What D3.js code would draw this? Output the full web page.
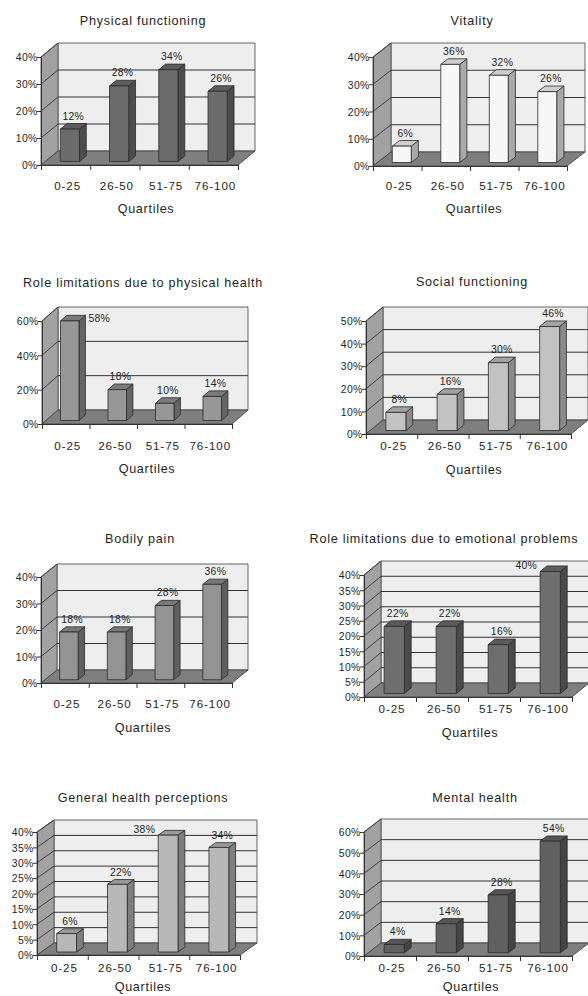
<!DOCTYPE html>
<html><head><meta charset="utf-8">
<script src="https://cdn.jsdelivr.net/npm/d3@7/dist/d3.min.js"></script>
<style>
html,body{margin:0;padding:0;background:#fff;}
svg{display:block;font-family:"Liberation Sans",Arial,sans-serif;}
</style></head>
<body><svg id="c" width="588" height="996"></svg>
<script>
// ---- data ----
const categories = ["0-25", "26-50", "51-75", "76-100"];
const titles = ["Physical functioning", "Vitality", "Role limitations due to physical health", "Social functioning",
  "Bodily pain", "Role limitations due to emotional problems", "General health perceptions", "Mental health"];
const physicalFunctioning = [12, 28, 34, 26];
const vitality = [6, 36, 32, 26];
const rolePhysical = [58, 18, 10, 14];
const socialFunctioning = [8, 16, 30, 46];
const bodilyPain = [18, 18, 28, 36];
const roleEmotional = [22, 22, 16, 40];
const generalHealth = [6, 22, 38, 34];
const mentalHealth = [4, 14, 28, 54];
const seriesValues = [physicalFunctioning, vitality, rolePhysical, socialFunctioning, bodilyPain, roleEmotional, generalHealth, mentalHealth];
const axisMax = [40, 40, 60, 50, 40, 40, 40, 60];
const axisStep = [10, 10, 20, 10, 10, 5, 5, 10];
const xAxisTitle = "Quartiles";

// ---- layout (positions only) ----
const layout = [
  {x0:41, x1:238, y0:165, yT:57,  dx:17, dy:14, tx:143, ty:25,  cy:190, qx:146, qy:213},
  {x0:373,x1:567, y0:166, yT:57,  dx:18, dy:14, tx:472, ty:25,  cy:190, qx:474, qy:213},
  {x0:42, x1:232, y0:424, yT:321, dx:16, dy:14, tx:143, ty:287, cy:450, qx:147, qy:473},
  {x0:366,x1:571, y0:434, yT:321, dx:17, dy:14, tx:472, ty:286, cy:450, qx:474, qy:474},
  {x0:41, x1:232, y0:683, yT:577, dx:16, dy:13, tx:140, ty:543, cy:708, qx:143, qy:732},
  {x0:364,x1:572, y0:697, yT:575, dx:17, dy:14, tx:444, ty:543, cy:713, qx:470, qy:737},
  {x0:37, x1:240, y0:955, yT:832, dx:17, dy:12, tx:143, ty:802, cy:972, qx:143, qy:991},
  {x0:364,x1:572, y0:956, yT:832, dx:17, dy:13, tx:475, ty:802, cy:972, qx:471, qy:991}
];
const barStyle = [
  {f:"#6b6b6b", s:"#4c4c4c", t:"#5c5c5c"},
  {f:"#f7f7f7", s:"#a9a9a9", t:"#cfcfcf"},
  {f:"#979797", s:"#656565", t:"#7b7b7b"},
  {f:"#c2c2c2", s:"#8a8a8a", t:"#a2a2a2"},
  {f:"#939393", s:"#5f5f5f", t:"#787878"},
  {f:"#6e6e6e", s:"#4a4a4a", t:"#5b5b5b"},
  {f:"#b8b8b8", s:"#7f7f7f", t:"#999999"},
  {f:"#606060", s:"#444444", t:"#555555"}
];

const svg = d3.select("#c");
const zf = 0.25, zb = 0.65;
const txt = "#1e1e1e";

seriesValues.forEach((vals, i) => {
  const L = layout[i], st = barStyle[i];
  const g = svg.append("g");
  const y = d3.scaleLinear().domain([0, axisMax[i]]).range([L.y0, L.yT]);
  const xb = d3.scaleBand().domain(categories).range([L.x0, L.x1]).paddingInner(0.61).paddingOuter(0.305);
  const xl = d3.scaleLinear().domain([0, categories.length]).range([L.x0, L.x1]);
  const ticks = d3.range(0, axisMax[i] + 0.001, axisStep[i]);
  const dx = L.dx, dy = L.dy;
  const P = pts => pts.map(p => p.join(",")).join(" ");

  // back wall
  g.append("polygon").attr("points", P([[L.x0+dx, y(axisMax[i])-dy],[L.x1+dx, y(axisMax[i])-dy],[L.x1+dx, L.y0-dy],[L.x0+dx, L.y0-dy]]))
    .attr("fill", "#eeeeee").attr("stroke", "#555").attr("stroke-width", 0.9);
  // left wall
  g.append("polygon").attr("points", P([[L.x0, y(axisMax[i])],[L.x0+dx, y(axisMax[i])-dy],[L.x0+dx, L.y0-dy],[L.x0, L.y0]]))
    .attr("fill", "#a2a2a2").attr("stroke", "#555").attr("stroke-width", 0.9);
  // floor
  g.append("polygon").attr("points", P([[L.x0, L.y0],[L.x1, L.y0],[L.x1+dx, L.y0-dy],[L.x0+dx, L.y0-dy]]))
    .attr("fill", "#7f7f7f").attr("stroke", "#444").attr("stroke-width", 0.9);
  // grid lines
  ticks.filter(t => t > 0 && t < axisMax[i]).forEach(t => {
    g.append("line").attr("x1", L.x0+dx).attr("x2", L.x1+dx).attr("y1", y(t)-dy).attr("y2", y(t)-dy)
      .attr("stroke", "#333").attr("stroke-width", 1);
  });
  ticks.filter(t => t > 0).forEach(t => {
    g.append("line").attr("x1", L.x0).attr("x2", L.x0+dx).attr("y1", y(t)).attr("y2", y(t)-dy)
      .attr("stroke", "#333").attr("stroke-width", 0.9);
  });

  // y axis
  const ya = g.append("g").attr("transform", `translate(${L.x0},0)`)
    .call(d3.axisLeft(y).tickValues(ticks).tickFormat(d => d + "%").tickSize(4).tickSizeOuter(0));
  ya.select(".domain").attr("stroke", "#333");
  ya.selectAll(".tick line").attr("stroke", "#333");
  ya.selectAll("text").attr("font-size", 10.4).attr("letter-spacing", 0.3).attr("fill", txt)
    .attr("font-family", "Liberation Sans, Arial, sans-serif").attr("x", -3.5).attr("dy", "0.36em");

  // x axis (boundary ticks)
  const xa = g.append("g").attr("transform", `translate(0,${L.y0})`)
    .call(d3.axisBottom(xl).tickValues(d3.range(0, categories.length + 1)).tickFormat("").tickSize(5).tickSizeOuter(0));
  xa.select(".domain").attr("stroke", "#333");
  xa.selectAll(".tick line").attr("stroke", "#333");

  // bars
  const bw = xb.bandwidth();
  vals.forEach((v, k) => {
    const fx = xb(categories[k]) + zf*dx, fb = L.y0 - zf*dy, ft = y(v) - zf*dy;
    const ox = (zb - zf)*dx, oy = (zb - zf)*dy;
    const bg = g.append("g").attr("stroke", "#2a2a2a").attr("stroke-width", 0.8).attr("stroke-linejoin", "round");
    bg.append("polygon").attr("points", P([[fx+bw, ft],[fx+bw+ox, ft-oy],[fx+bw+ox, fb-oy],[fx+bw, fb]])).attr("fill", st.s);
    bg.append("polygon").attr("points", P([[fx, ft],[fx+ox, ft-oy],[fx+bw+ox, ft-oy],[fx+bw, ft]])).attr("fill", st.t);
    bg.append("rect").attr("x", fx).attr("y", ft).attr("width", bw).attr("height", fb - ft).attr("fill", st.f);

    // value label
    const lab = g.append("text").text(v + "%").attr("font-size", 10.4).attr("letter-spacing", 0.3).attr("fill", txt);
    if (v / axisMax[i] >= 0.94) {
      if (k === 0) lab.attr("x", fx + bw + ox + 3).attr("y", ft - oy + 7).attr("text-anchor", "start");
      else lab.attr("x", fx - 3).attr("y", ft - oy + 3).attr("text-anchor", "end");
    } else {
      lab.attr("x", fx + bw/2 + ox/2).attr("y", ft - oy - 4).attr("text-anchor", "middle");
    }
  });

  // category labels
  categories.forEach((c, k) => {
    g.append("text").text(c).attr("x", xb(c) + bw/2 + 2).attr("y", L.cy).attr("text-anchor", "middle")
      .attr("font-size", 11.6).attr("letter-spacing", 0.9).attr("fill", txt);
  });
  // titles
  g.append("text").text(titles[i]).attr("x", L.tx).attr("y", L.ty).attr("text-anchor", "middle")
    .attr("font-size", 12.6).attr("letter-spacing", 0.75).attr("fill", txt);
  g.append("text").text(xAxisTitle).attr("x", L.qx).attr("y", L.qy).attr("text-anchor", "middle")
    .attr("font-size", 12.6).attr("letter-spacing", 0.7).attr("fill", txt);
});
</script></body></html>
